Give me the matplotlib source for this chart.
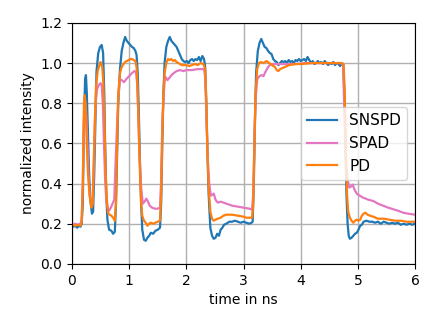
import matplotlib
matplotlib.use("Agg")
import matplotlib.pyplot as plt

# SNSPD trace (time in ns, normalized intensity)
t_snspd = [0.00, 0.03, 0.06, 0.09, 0.12, 0.15, 0.17, 0.19, 0.21, 0.23, 0.245, 0.26, 0.28, 0.30, 0.32, 0.35, 0.37,
           0.39, 0.41, 0.43, 0.46, 0.49, 0.52, 0.545, 0.565, 0.58, 0.60, 0.62, 0.65, 0.69, 0.72, 0.75, 0.77, 0.79,
           0.81, 0.84, 0.87, 0.90, 0.93, 0.96, 0.99, 1.02, 1.05, 1.08, 1.11, 1.13, 1.15, 1.17, 1.19, 1.21, 1.23,
           1.26, 1.29, 1.32, 1.35, 1.38, 1.42, 1.46, 1.50, 1.54, 1.56, 1.58, 1.60, 1.62, 1.65, 1.68, 1.71, 1.74,
           1.77, 1.80, 1.83, 1.86, 1.89, 1.92, 1.95, 1.98, 2.01, 2.04, 2.07, 2.10, 2.13, 2.16, 2.19, 2.22, 2.25,
           2.28, 2.31, 2.33, 2.35, 2.37, 2.39, 2.42, 2.45, 2.48, 2.51, 2.54, 2.57, 2.60, 2.63, 2.66, 2.70, 2.75,
           2.80, 2.85, 2.90, 2.95, 3.00, 3.05, 3.10, 3.14, 3.16, 3.18, 3.20, 3.22, 3.25, 3.28, 3.31, 3.34, 3.37,
           3.40, 3.43, 3.46, 3.49, 3.52, 3.55, 3.58, 3.61, 3.64, 3.67, 3.70, 3.73, 3.76, 3.79, 3.82, 3.85, 3.88,
           3.91, 3.94, 3.97, 4.00, 4.03, 4.06, 4.09, 4.12, 4.15, 4.18, 4.21, 4.24, 4.27, 4.30, 4.33, 4.36, 4.39,
           4.42, 4.45, 4.48, 4.51, 4.54, 4.57, 4.60, 4.63, 4.66, 4.69, 4.72, 4.745, 4.765, 4.785, 4.80, 4.82, 4.84,
           4.86, 4.89, 4.92, 4.95, 4.98, 5.01, 5.04, 5.07, 5.10, 5.15, 5.20, 5.25, 5.30, 5.35, 5.40, 5.45, 5.50,
           5.55, 5.60, 5.65, 5.70, 5.75, 5.80, 5.85, 5.90, 5.95, 6.00]
v_snspd = [0.19, 0.185, 0.19, 0.18, 0.19, 0.185, 0.20, 0.30, 0.70, 0.92, 0.94, 0.85, 0.65, 0.45, 0.32, 0.25, 0.26,
           0.45, 0.70, 0.96, 1.05, 1.08, 1.09, 1.05, 0.85, 0.60, 0.35, 0.22, 0.17, 0.165, 0.15, 0.16, 0.30, 0.55,
           0.80, 0.97, 1.06, 1.10, 1.13, 1.11, 1.10, 1.09, 1.08, 1.075, 1.06, 1.04, 0.95, 0.75, 0.50, 0.30, 0.17,
           0.12, 0.115, 0.13, 0.14, 0.155, 0.15, 0.165, 0.17, 0.18, 0.30, 0.60, 0.85, 1.00, 1.08, 1.11, 1.13, 1.11,
           1.10, 1.09, 1.08, 1.06, 1.04, 1.02, 1.01, 1.005, 1.01, 1.00, 1.015, 1.02, 1.01, 1.02, 1.015, 1.03, 1.01,
           1.035, 1.02, 0.98, 0.80, 0.55, 0.35, 0.18, 0.14, 0.125, 0.13, 0.15, 0.14, 0.17, 0.18, 0.195, 0.20, 0.21,
           0.21, 0.215, 0.21, 0.205, 0.21, 0.205, 0.20, 0.205, 0.21, 0.40, 0.70, 0.95, 1.06, 1.10, 1.12, 1.10, 1.08,
           1.075, 1.06, 1.05, 1.045, 1.02, 1.01, 1.005, 0.99, 1.00, 1.01, 1.005, 1.01, 1.00, 1.015, 1.005, 1.01, 1.00,
           1.015, 1.01, 1.02, 1.01, 1.015, 1.02, 1.01, 1.03, 1.015, 1.00, 1.01, 0.995, 1.00, 1.01, 1.00, 1.005, 0.995,
           1.01, 1.00, 0.99, 1.00, 0.995, 1.005, 0.99, 1.00, 0.995, 0.985, 1.00, 0.99, 0.85, 0.55, 0.35, 0.20, 0.14,
           0.125, 0.13, 0.14, 0.15, 0.155, 0.17, 0.19, 0.195, 0.21, 0.215, 0.21, 0.21, 0.205, 0.21, 0.20, 0.21, 0.205,
           0.20, 0.205, 0.20, 0.205, 0.195, 0.20, 0.195, 0.20, 0.195, 0.20]

# SPAD trace
t_spad = [0.00, 0.05, 0.10, 0.15, 0.17, 0.19, 0.21, 0.23, 0.25, 0.27, 0.29, 0.31, 0.33, 0.36, 0.38, 0.40, 0.42,
          0.44, 0.47, 0.50, 0.52, 0.54, 0.56, 0.58, 0.60, 0.62, 0.65, 0.68, 0.71, 0.74, 0.76, 0.79, 0.81, 0.84,
          0.87, 0.91, 0.95, 1.00, 1.05, 1.09, 1.12, 1.14, 1.16, 1.18, 1.21, 1.24, 1.27, 1.30, 1.33, 1.36, 1.40,
          1.45, 1.50, 1.54, 1.56, 1.58, 1.60, 1.62, 1.64, 1.67, 1.70, 1.74, 1.78, 1.83, 1.89, 1.95, 2.00, 2.10,
          2.20, 2.31, 2.33, 2.35, 2.37, 2.40, 2.43, 2.46, 2.48, 2.51, 2.55, 2.60, 2.65, 2.70, 2.80, 2.90, 3.00,
          3.10, 3.15, 3.17, 3.19, 3.21, 3.24, 3.28, 3.32, 3.35, 3.39, 3.43, 3.46, 3.52, 3.60, 3.70, 3.90, 4.10,
          4.30, 4.50, 4.70, 4.74, 4.76, 4.78, 4.80, 4.82, 4.85, 4.88, 4.91, 4.94, 4.98, 5.03, 5.09, 5.18, 5.27,
          5.35, 5.44, 5.53, 5.62, 5.70, 5.79, 5.88, 6.00]
v_spad = [0.195, 0.20, 0.195, 0.20, 0.22, 0.40, 0.72, 0.81, 0.75, 0.60, 0.45, 0.34, 0.31, 0.295, 0.45, 0.70, 0.82,
          0.87, 0.89, 0.90, 0.89, 0.80, 0.60, 0.42, 0.32, 0.28, 0.265, 0.28, 0.30, 0.32, 0.48, 0.70, 0.82, 0.92,
          0.915, 0.905, 0.92, 0.935, 0.95, 0.96, 0.955, 0.90, 0.75, 0.55, 0.38, 0.30, 0.31, 0.325, 0.31, 0.29, 0.28,
          0.275, 0.275, 0.28, 0.42, 0.70, 0.82, 0.91, 0.93, 0.915, 0.925, 0.94, 0.95, 0.96, 0.965, 0.96, 0.965,
          0.965, 0.97, 0.97, 0.93, 0.75, 0.55, 0.40, 0.34, 0.345, 0.35, 0.32, 0.305, 0.31, 0.305, 0.30, 0.29, 0.285,
          0.28, 0.275, 0.27, 0.35, 0.60, 0.82, 0.92, 0.935, 0.94, 0.935, 0.96, 0.98, 0.99, 0.995, 0.995, 0.995,
          0.995, 1.00, 1.00, 1.00, 1.00, 0.995, 0.80, 0.60, 0.48, 0.42, 0.38, 0.385, 0.395, 0.37, 0.35, 0.34, 0.33,
          0.32, 0.313, 0.30, 0.29, 0.28, 0.272, 0.265, 0.255, 0.25, 0.245]

# PD trace
t_pd = [0.00, 0.05, 0.10, 0.15, 0.17, 0.19, 0.21, 0.225, 0.24, 0.26, 0.28, 0.31, 0.34, 0.36, 0.38, 0.40, 0.42,
        0.45, 0.48, 0.50, 0.53, 0.55, 0.57, 0.59, 0.61, 0.635, 0.66, 0.69, 0.72, 0.75, 0.77, 0.79, 0.81, 0.84,
        0.87, 0.90, 0.93, 0.96, 0.99, 1.02, 1.05, 1.08, 1.11, 1.13, 1.15, 1.17, 1.19, 1.21, 1.23, 1.26, 1.29,
        1.32, 1.35, 1.38, 1.42, 1.46, 1.50, 1.54, 1.56, 1.58, 1.60, 1.62, 1.65, 1.68, 1.71, 1.74, 1.77, 1.80,
        1.83, 1.86, 1.89, 1.92, 1.95, 2.00, 2.05, 2.10, 2.15, 2.20, 2.25, 2.30, 2.33, 2.35, 2.37, 2.39, 2.42,
        2.45, 2.48, 2.51, 2.55, 2.60, 2.65, 2.70, 2.80, 2.90, 3.00, 3.05, 3.10, 3.15, 3.17, 3.19, 3.21, 3.24,
        3.27, 3.30, 3.35, 3.40, 3.45, 3.50, 3.55, 3.58, 3.61, 3.64, 3.68, 3.72, 3.80, 3.90, 4.00, 4.20, 4.40,
        4.60, 4.70, 4.75, 4.77, 4.79, 4.81, 4.83, 4.86, 4.89, 4.92, 4.95, 4.98, 5.01, 5.04, 5.07, 5.10, 5.13,
        5.17, 5.21, 5.27, 5.35, 5.45, 5.55, 5.65, 5.75, 5.85, 6.00]
v_pd = [0.195, 0.19, 0.195, 0.19, 0.21, 0.40, 0.80, 0.84, 0.78, 0.60, 0.45, 0.34, 0.28, 0.30, 0.50, 0.70, 0.88,
        0.96, 0.99, 1.005, 0.98, 0.90, 0.70, 0.45, 0.32, 0.25, 0.245, 0.24, 0.23, 0.215, 0.30, 0.60, 0.85, 0.95,
        0.98, 0.995, 1.005, 1.01, 1.015, 1.02, 1.02, 1.015, 1.01, 0.98, 0.85, 0.65, 0.45, 0.30, 0.24, 0.215, 0.205,
        0.19, 0.20, 0.205, 0.20, 0.205, 0.21, 0.215, 0.35, 0.65, 0.85, 0.95, 1.00, 1.02, 1.015, 1.02, 1.01, 1.015,
        1.005, 1.00, 0.995, 0.99, 0.99, 0.99, 0.985, 0.99, 0.995, 0.99, 1.00, 0.995, 0.97, 0.80, 0.55, 0.38, 0.26,
        0.225, 0.215, 0.22, 0.225, 0.23, 0.24, 0.245, 0.245, 0.24, 0.235, 0.23, 0.23, 0.23, 0.30, 0.60, 0.85, 0.97,
        1.00, 1.005, 1.00, 1.01, 1.00, 0.99, 0.98, 0.965, 0.96, 0.97, 0.975, 0.98, 0.99, 0.995, 0.995, 1.00, 1.00,
        1.00, 1.00, 0.995, 0.85, 0.55, 0.35, 0.26, 0.23, 0.215, 0.205, 0.215, 0.22, 0.215, 0.22, 0.24, 0.25, 0.255,
        0.245, 0.24, 0.235, 0.225, 0.225, 0.22, 0.215, 0.215, 0.21, 0.21]

x_ticks = [0, 1, 2, 3, 4, 5, 6]
y_ticks = [0.0, 0.2, 0.4, 0.6, 0.8, 1.0, 1.2]

fig, ax = plt.subplots(figsize=(4.36, 3.27), dpi=100)
fig.subplots_adjust(left=0.165, right=0.952, bottom=0.193, top=0.930)

ax.plot(t_snspd, v_snspd, color='#1f77b4', lw=1.6, label='SNSPD')
ax.plot(t_spad, v_spad, color='#e377c2', lw=1.6, label='SPAD')
ax.plot(t_pd, v_pd, color='#ff7f0e', lw=1.6, label='PD')

ax.set_xlim(0, 6)
ax.set_ylim(0, 1.2)
ax.set_xticks(x_ticks)
ax.set_yticks(y_ticks)
ax.set_yticklabels([f'{v:.1f}' for v in y_ticks])
ax.grid(True, color='#b0b0b0', lw=1.0)
ax.set_axisbelow(True)
ax.set_xlabel('time in ns', fontsize=10)
ax.set_ylabel('normalized intensity', fontsize=10)
ax.tick_params(labelsize=10)
ax.legend(loc='center right', fontsize=11)

fig.savefig('out.png', dpi=100)
